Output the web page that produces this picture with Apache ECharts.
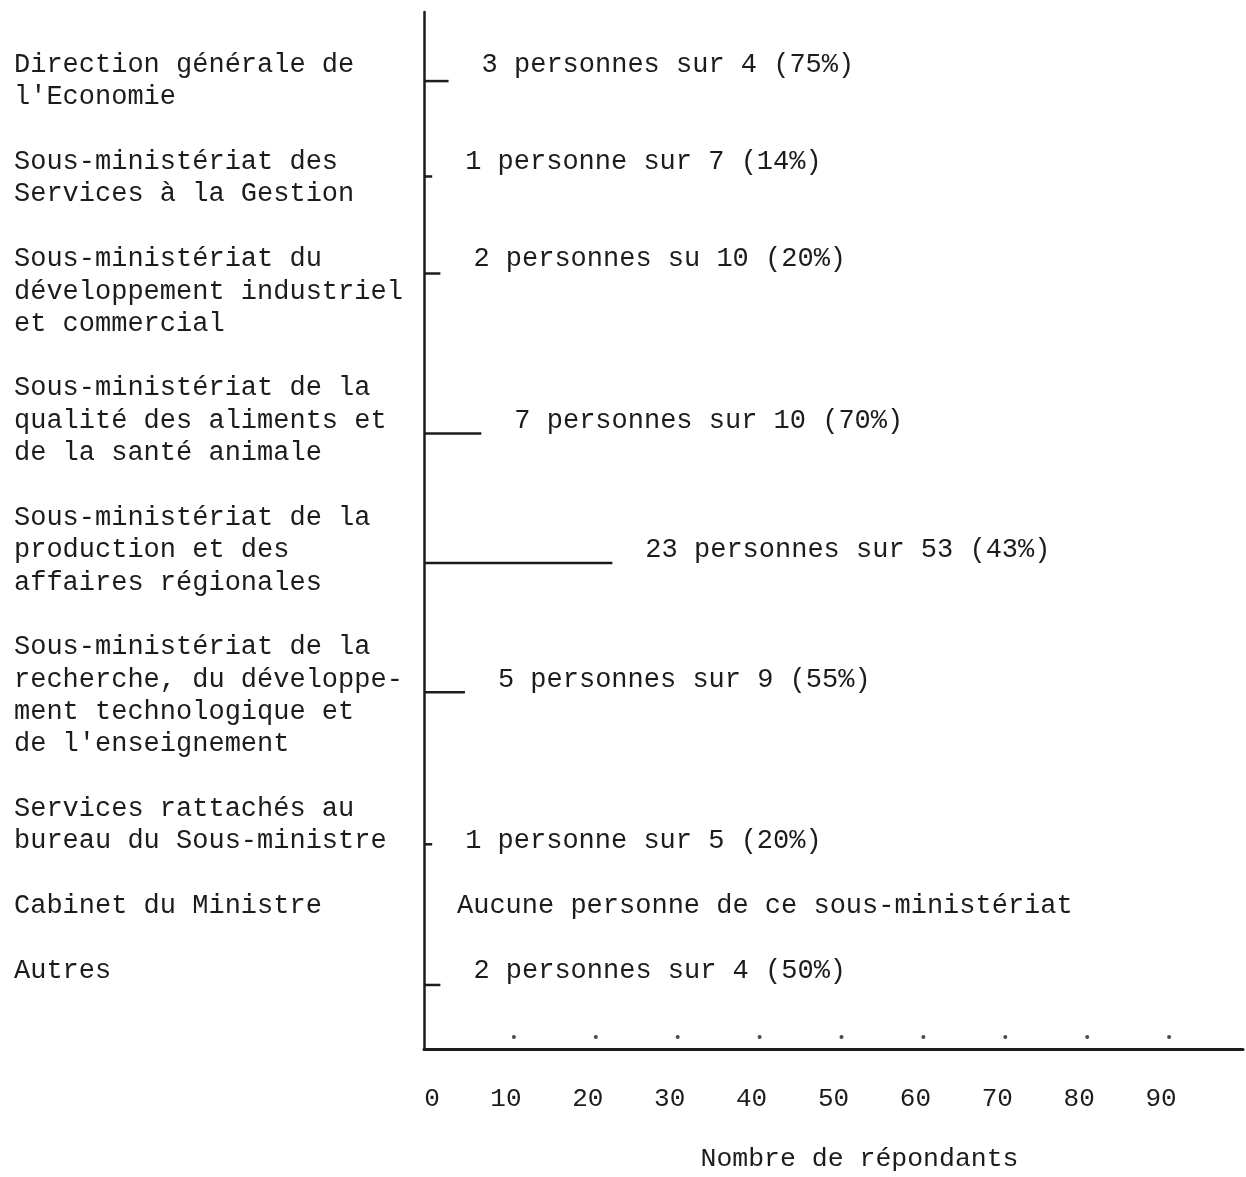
<!DOCTYPE html>
<html>
<head>
<meta charset="utf-8">
<script src="https://cdn.jsdelivr.net/npm/echarts@6/dist/echarts.min.js"></script>
<style>
html,body{margin:0;padding:0;background:#fff;}
#chart{width:1246px;height:1177px;}
</style>
</head>
<body>
<div id="chart"></div>
<script>
// ---- data ----
const categories = [
  "Direction générale de\nl'Economie",
  "Sous-ministériat des\nServices à la Gestion",
  "Sous-ministériat du\ndéveloppement industriel\net commercial",
  "Sous-ministériat de la\nqualité des aliments et\nde la santé animale",
  "Sous-ministériat de la\nproduction et des\naffaires régionales",
  "Sous-ministériat de la\nrecherche, du développe-\nment technologique et\nde l'enseignement",
  "Services rattachés au\nbureau du Sous-ministre",
  "Cabinet du Ministre",
  "Autres"
];
const respondents = [3, 1, 2, 7, 23, 5, 1, 0, 2];
const valueLabels = [
  "3 personnes sur 4 (75%)",
  "1 personne sur 7 (14%)",
  "2 personnes su 10 (20%)",
  "7 personnes sur 10 (70%)",
  "23 personnes sur 53 (43%)",
  "5 personnes sur 9 (55%)",
  "1 personne sur 5 (20%)",
  "Aucune personne de ce sous-ministériat",
  "2 personnes sur 4 (50%)"
];
const xTicks = [10, 20, 30, 40, 50, 60, 70, 80, 90];
const xAxisName = "Nombre de répondants";

// ---- layout (typewriter line index of each block) ----
const nameRows = [0, 3, 6, 10, 14, 18, 23, 26, 28];
const labelRows = [0, 3, 6, 11, 15, 19, 24, 26, 28];
const barRows = [0.5, 3.45, 6.45, 11.4, 15.4, 19.4, 24.1, 26.45, 28.45];

const FONT = '"Liberation Mono", "DejaVu Sans Mono", monospace';
const INK = '#1c1c1c';
const LINE_H = 32.4;

const chart = echarts.init(document.getElementById('chart'), null, {renderer: 'canvas'});

const option = {
  backgroundColor: '#ffffff',
  animation: false,
  grid: {left: 424, right: 0, top: 12, bottom: 126, containLabel: false},
  xAxis: {
    type: 'value', min: 0, max: 100, interval: 10,
    axisLine: {show: true, onZero: false, lineStyle: {color: INK, width: 3}},
    axisTick: {show: false},
    splitLine: {show: false},
    axisLabel: {
      margin: 37, color: INK, fontFamily: FONT, fontSize: 26,
      formatter: v => (v >= 100 ? '' : (v === 0 ? '{z|0}' : String(v))),
      rich: {z: {fontFamily: FONT, fontSize: 26, color: INK, padding: [0, 0, 0, 16]}}
    },
    name: xAxisName, nameLocation: 'middle', nameGap: 96,
    nameTextStyle: {color: INK, fontFamily: FONT, fontSize: 26.5, padding: [0, 0, 0, 52]}
  },
  yAxis: {
    type: 'value', inverse: true, min: -1.636, max: 30.43,
    axisLine: {show: true, onZero: false, lineStyle: {color: INK, width: 2.5}},
    axisTick: {show: false}, axisLabel: {show: false}, splitLine: {show: false}
  },
  series: [
    {
      type: 'custom',
      coordinateSystem: 'cartesian2d',
      clip: false,
      encode: {x: 0, y: 1},
      data: respondents.map((v, i) => [v, labelRows[i], i]),
      renderItem: function (params, api) {
        const i = api.value(2);
        const v = api.value(0);
        const row = api.value(1);
        const p0 = api.coord([0, barRows[i]]);
        const p1 = api.coord([v, barRows[i]]);
        const lp = api.coord([v, row]);
        const np = api.coord([0, nameRows[i]]);
        const children = [];
        if (v > 0) {
          children.push({
            type: 'line',
            shape: {x1: p0[0], y1: p0[1], x2: p1[0], y2: p1[1]},
            style: {stroke: INK, lineWidth: 2.5}
          });
        }
        children.push({
          type: 'text',
          style: {
            text: valueLabels[i], x: p1[0] + 33, y: lp[1],
            align: 'left', verticalAlign: 'middle',
            fontFamily: FONT, fontSize: 27, fill: INK
          }
        });
        children.push({
          type: 'text',
          style: {
            text: categories[i], x: 14, y: np[1] - LINE_H / 2,
            align: 'left', verticalAlign: 'top', lineHeight: LINE_H,
            fontFamily: FONT, fontSize: 27, fill: INK
          }
        });
        return {type: 'group', children: children};
      }
    },
    {
      type: 'scatter',
      silent: true,
      symbol: 'circle',
      symbolSize: 4,
      symbolOffset: [8, -12],
      itemStyle: {color: INK},
      data: xTicks.map(t => [t, 30.43])
    }
  ]
};
chart.setOption(option);
</script>
</body>
</html>
